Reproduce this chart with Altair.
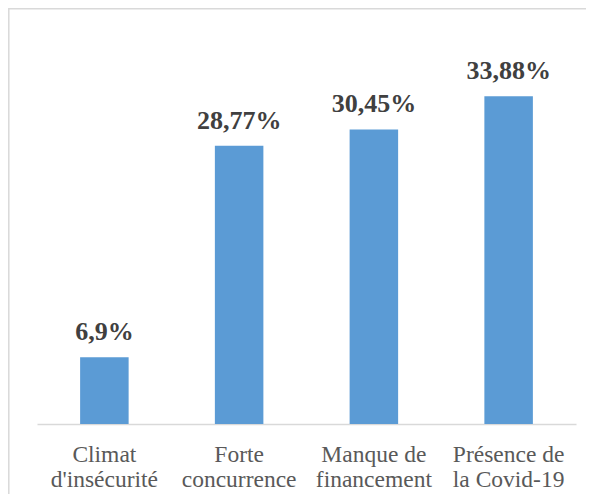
import altair as alt
import pandas as pd

categories = ["Climat|d'insécurité", "Forte|concurrence", "Manque de|financement", "Présence de|la Covid-19"]
values = [6.9, 28.77, 30.45, 33.88]
value_labels = ["6,9%", "28,77%", "30,45%", "33,88%"]

df = pd.DataFrame({"cat": categories, "val": values, "lab": value_labels})

SERIF = "Liberation Serif, Times New Roman, serif"

x = alt.X("cat:N", sort=categories, title=None,
          scale=alt.Scale(paddingInner=0.64, paddingOuter=0.32),
          axis=alt.Axis(labelExpr="split(datum.label, '|')", labelAngle=0,
                        labelFont=SERIF, labelFontSize=23.5, labelColor="#595959",
                        labelLineHeight=25, labelBaseline="alphabetic", labelPadding=37,
                        ticks=False, domainColor="#d9d9d9", domainWidth=1.5, grid=False))
y = alt.Y("val:Q", scale=alt.Scale(domain=[0, 40]), axis=None)

bars = alt.Chart(df).mark_bar(color="#5B9BD5").encode(x=x, y=y)
texts = alt.Chart(df).mark_text(font=SERIF, fontSize=26, fontWeight="bold",
                                color="#404040", dy=-17, baseline="alphabetic").encode(
    x=alt.X("cat:N", sort=categories), y=y, text="lab:N")

border = alt.Chart(pd.DataFrame({"a": [0]})).mark_rect(
    fill=None, stroke="#d9d9d9", strokeWidth=1.5, clip=False).encode(
    x=alt.value(-28.2), x2=alt.value(900), y=alt.value(-28.2), y2=alt.value(900))

chart = alt.layer(border, bars, texts).properties(
    width=539, height=387,
    autosize=alt.AutoSizeParams(type="none"),
    padding={"left": 29, "top": 29, "right": 10, "bottom": 70},
    background="white",
).configure_view(stroke=None).configure_axis(labelFont=SERIF)

chart.save("out.html", embed_options={"renderer": "svg", "actions": False})
